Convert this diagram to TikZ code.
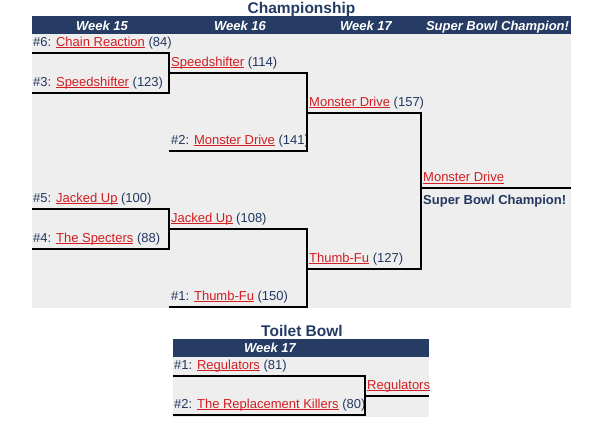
\documentclass[tikz,border=0pt]{standalone}
\usepackage{fontspec}
\setmainfont{Liberation Sans}
\definecolor{hbar}{RGB}{38,60,100}
\definecolor{gbg}{RGB}{238,238,238}
\definecolor{tnavy}{RGB}{35,55,95}
\definecolor{ttitle}{RGB}{36,59,100}
\definecolor{tred}{RGB}{210,30,35}
\newcommand\tm[1]{{\color{tred}\setbox0\hbox{#1}\rlap{\rule[-2.4pt]{\wd0}{1pt}}\box0}}
\begin{document}
\begin{tikzpicture}[x=1pt,y=-1pt,
  lbl/.style={anchor=base west,inner sep=0pt,font=\fontsize{13}{15}\selectfont,text=tnavy},
  hdr/.style={anchor=base,inner sep=0pt,font=\fontsize{13}{15}\selectfont\bfseries\itshape,text=white},
  ttl/.style={anchor=base,inner sep=0pt,font=\fontsize{15.5}{18}\selectfont\bfseries,text=ttitle},
  br/.style={line width=2pt,line join=miter,black}]
\useasboundingbox (0,0) rectangle (592,424);
% backgrounds
\fill[hbar] (32,16) rectangle (571,34);
\fill[gbg] (32,34) rectangle (571,308);
\fill[hbar] (173,339) rectangle (429,357);
\fill[gbg] (173,357) rectangle (429,417);
% titles and headers
\node[ttl] (tChamp) at (301.5,13) {Championship};
\node[hdr] (h15) at (102,30) {Week 15};
\node[hdr] (h16) at (240,30) {Week 16};
\node[hdr] (h17) at (366,30) {Week 17};
\node[hdr] (hSB) at (497.5,30) {Super Bowl Champion!};
\node[ttl] (tToilet) at (302,336) {Toilet Bowl};
\node[hdr] (hT17) at (270,352.5) {Week 17};
% labels
\node[lbl] (s6) at (33,46) {\#6: \tm{Chain Reaction} (84)};
\node[lbl] (s3) at (33,86) {\#3: \tm{Speedshifter} (123)};
\node[lbl] (w16a) at (171,66) {\tm{Speedshifter} (114)};
\node[lbl] (s2) at (171,144) {\#2: \tm{Monster Drive} (141)};
\node[lbl] (w17a) at (309,106) {\tm{Monster Drive} (157)};
\node[lbl] (s5) at (33,202) {\#5: \tm{Jacked Up} (100)};
\node[lbl] (s4) at (33,242) {\#4: \tm{The Specters} (88)};
\node[lbl] (w16b) at (171,222) {\tm{Jacked Up} (108)};
\node[lbl] (s1) at (171,300) {\#1: \tm{Thumb-Fu} (150)};
\node[lbl] (w17b) at (309,262) {\tm{Thumb-Fu} (127)};
\node[lbl] (champ) at (423,181.5) {\tm{Monster Drive}};
\node[lbl,font=\fontsize{13}{15}\selectfont\bfseries] (champtxt) at (423,204) {Super Bowl Champion!};
\node[lbl] (t1) at (174,369) {\#1: \tm{Regulators} (81)};
\node[lbl] (t2) at (174,408) {\#2: \tm{The Replacement Killers} (80)};
\node[lbl] (tw) at (367,389) {\tm{Regulators}};
% bracket coordinates
\coordinate (a1) at (32,53);  \coordinate (a2) at (169,53);
\coordinate (a3) at (169,93); \coordinate (a4) at (32,93);
\coordinate (b1) at (169,73); \coordinate (b2) at (307,73);
\coordinate (b3) at (307,151); \coordinate (b4) at (169,151);
\coordinate (c1) at (307,113); \coordinate (c2) at (421,113);
\coordinate (c3) at (421,269); \coordinate (c4) at (307,269);
\coordinate (d1) at (421,188); \coordinate (d2) at (571,188);
\coordinate (e1) at (32,209);  \coordinate (e2) at (169,209);
\coordinate (e3) at (169,249); \coordinate (e4) at (32,249);
\coordinate (f1) at (169,229); \coordinate (f2) at (307,229);
\coordinate (f3) at (307,307); \coordinate (f4) at (169,307);
\coordinate (g1) at (173,376); \coordinate (g2) at (365,376);
\coordinate (g3) at (365,415); \coordinate (g4) at (173,415);
\coordinate (h1) at (365,396); \coordinate (h2) at (429,396);
\draw[br] (a1) -- (a2) -- (a3) -- (a4);
\draw[br] (b1) -- (b2) -- (b3) -- (b4);
\draw[br] (c1) -- (c2) -- (c3) -- (c4);
\draw[br] (d1) -- (d2);
\draw[br] (e1) -- (e2) -- (e3) -- (e4);
\draw[br] (f1) -- (f2) -- (f3) -- (f4);
\draw[br] (g1) -- (g2) -- (g3) -- (g4);
\draw[br] (h1) -- (h2);
\end{tikzpicture}
\end{document}
